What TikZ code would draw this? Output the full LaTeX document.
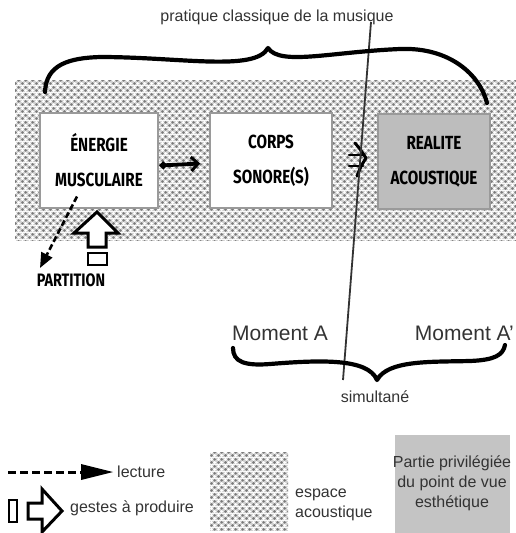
\documentclass[tikz,border=0pt]{standalone}
\usepackage{fontspec}
\setmainfont{Liberation Sans}
\newfontfamily\comicfont[FakeStretch=0.8]{Fira Sans}
\usetikzlibrary{patterns,arrows.meta}
\definecolor{boxgray}{HTML}{BDBDBD}
\definecolor{legendgray}{HTML}{C4C4C4}
\definecolor{edgegray}{HTML}{9A9A9A}
\definecolor{txt}{HTML}{333333}
\pgfdeclarepatterninherentlycolored{acoustic}{\pgfpointorigin}{\pgfqpoint{7pt}{7pt}}{\pgfqpoint{7pt}{7pt}}{%
  \pgfsetfillcolor{black!18}%
  \pgfpathrectangle{\pgfpointorigin}{\pgfqpoint{7pt}{7pt}}\pgfusepath{fill}%
  \pgfsetfillcolor{black!52}%
  \pgfpathcircle{\pgfqpoint{1.75pt}{1.75pt}}{1.6pt}%
  \pgfpathcircle{\pgfqpoint{5.25pt}{5.25pt}}{1.6pt}\pgfusepath{fill}%
  \pgfsetfillcolor{white}%
  \pgfpathcircle{\pgfqpoint{1.75pt}{5.25pt}}{1.7pt}%
  \pgfpathcircle{\pgfqpoint{5.25pt}{1.75pt}}{1.7pt}\pgfusepath{fill}%
}
\tikzset{
  stagebox/.style={draw=edgegray,line width=1.6pt,fill=white,minimum height=95pt,inner sep=0pt,
    align=center,font=\comicfont\bfseries\fontsize{19}{35}\selectfont},
  label16/.style={text=txt,font=\fontsize{16}{20}\selectfont,inner sep=0pt},
  brace/.style={line width=4.2pt,line cap=round,line join=round},
  hollow/.style={line width=3pt,line join=miter,fill=white},
}
\begin{document}
\begin{tikzpicture}[x=1pt,y=-1pt]
\useasboundingbox (0,0) rectangle (516,533);
% acoustic space
\fill[pattern=acoustic] (15,80) rectangle (516,240);
% boxes
\node[stagebox,minimum width=118pt] (b1) at (99,160.5) {ÉNERGIE\\MUSCULAIRE};
\node[stagebox,minimum width=122pt] (b2) at (271,160.5) {CORPS\\SONORE(S)};
\node[stagebox,minimum width=112pt,fill=boxgray] (b3) at (434,161.5) {REALITE\\ACOUSTIQUE};
% arrow b1 -> b2
\draw[line width=3.8pt,{Circle[length=7pt]}-{Straight Barb[length=7pt,width=14pt,line width=3pt]}]
  ([xshift=1pt,yshift=-5pt]b1.east) -- ([xshift=-9pt,yshift=-3pt]b2.west);
% implies between b2 and b3
\draw[line width=2.8pt,line cap=round] (349,155) -- (363,155) (349,166) -- (363,166);
\draw[line width=3pt,line cap=round,line join=round] (355,143) .. controls (360,149) .. (366,158) .. controls (361,166) .. (357,176);
% top title
\node[label16] (title) at (277,17) {pratique classique de la musique};
\coordinate (ltop) at (371,22);
\coordinate (lbot) at (343,380);
\draw[line width=1.8pt,black!80] (ltop) -- (lbot);
% top brace
\draw[brace] (45,92) .. controls (46,64) and (70,58) .. (100,57)
  .. controls (180,57) and (255,72) .. (268,48)
  .. controls (280,66) and (330,52) .. (400,49)
  .. controls (450,47) and (480,75) .. (487,103);
% partition
\node[font=\comicfont\bfseries\fontsize{18}{18}\selectfont,inner sep=0pt] (part) at (71,280) {PARTITION};
\coordinate (dtip) at (40,268);
\draw[line width=2.6pt,dash pattern=on 6pt off 3pt,-{Triangle[length=15pt,width=12pt]}]
  ([xshift=-22pt,yshift=-36pt]b1.center) -- (dtip);
\draw[hollow] (97,212) -- (118,233) -- (106,233) -- (106,247) -- (88,247) -- (88,233) -- (74,233) -- cycle;
\draw[line width=2.6pt] (88,253) rectangle (107,265);
% bottom brace
\node[font=\fontsize{21}{24}\selectfont,text=txt,inner sep=0pt,anchor=west] (mA) at (232,333) {Moment A};
\node[font=\fontsize{21}{24}\selectfont,text=txt,inner sep=0pt,anchor=east] (mA2) at (514,333) {Moment A'};
\draw[brace] (233,348) .. controls (233,362) and (245,366) .. (270,364)
  .. controls (320,360) and (368,358) .. (377,380)
  .. controls (388,360) and (430,362) .. (470,361)
  .. controls (495,360) and (503,355) .. (505,345);
\node[label16] (sim) at (375,397) {simultané};
% legend
\coordinate (lg1) at (8,472);
\draw[line width=3pt,dash pattern=on 8pt off 4pt] (lg1) -- (82,472);
\fill (81,464) -- (113,472) -- (81,480) -- cycle;
\node[label16,anchor=west] (lect) at (117,472) {lecture};
\draw[line width=2.6pt] (9,500) rectangle (17,522);
\draw[hollow] (28,503) -- (42,503) -- (42,489) -- (62,511) -- (42,532) -- (42,519) -- (28,519) -- cycle;
\node[label16,anchor=west] (gest) at (70,508) {gestes à produire};
\fill[pattern=acoustic] (210,452) rectangle (288,530);
\node[label16,anchor=west,align=left] (esp) at (295,505) {espace\\acoustique};
\fill[legendgray] (395,435) rectangle (510,533);
\node[label16,align=center] (priv) at (452,483) {Partie privilégiée\\du point de vue\\esthétique};
\end{tikzpicture}
\end{document}
